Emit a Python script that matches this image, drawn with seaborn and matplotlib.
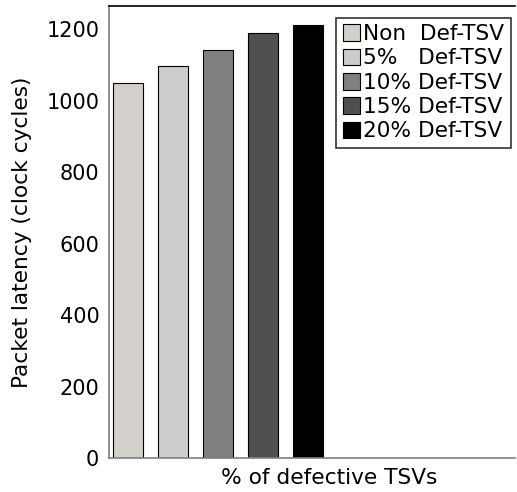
import numpy as np
import pandas as pd
import matplotlib
matplotlib.use("Agg")
import matplotlib.pyplot as plt
import seaborn as sns
from matplotlib.patches import Patch

labels = ["Non  Def-TSV", "5%   Def-TSV", "10% Def-TSV", "15% Def-TSV", "20% Def-TSV"]
latency = [1050, 1096, 1142, 1189, 1212]
colors = ["#d4d0c8", "#cccccc", "#808080", "#505050", "#000000"]

df = pd.DataFrame({"case": labels, "latency": latency})

sns.set_style("white")
plt.rcParams["font.family"] = ["DejaVu Sans"]
plt.rcParams["text.color"] = "black"
plt.rcParams["axes.labelcolor"] = "black"
plt.rcParams["ytick.labelcolor"] = "black"

fig = plt.figure(figsize=(5.17, 4.92), dpi=100)
ax = fig.add_axes([0.211, 0.069, 0.785, 0.919])

sns.barplot(data=df, x="case", y="latency", hue="case", palette=colors,
            width=0.667, edgecolor="black", linewidth=0.8, legend=False, ax=ax)

ax.set_xlim(-0.41, 8.6)
ax.set_ylim(0, 1265)
ax.set_yticks([0, 200, 400, 600, 800, 1000, 1200])
ax.set_xticks([])
ax.tick_params(axis="y", direction="in", length=5, color="gray", labelsize=15,
               labelcolor="black", pad=7)
ax.set_ylabel("Packet latency (clock cycles)", fontsize=15.6, labelpad=10)
ax.set_xlabel("% of defective TSVs", fontsize=15.6)
ax.xaxis.set_label_coords(0.542, -0.022, transform=ax.transAxes)
ax.xaxis.label.set_va("top")

ax.spines["left"].set_color("gray")
ax.spines["bottom"].set_color("gray")
ax.spines["top"].set_color("black")
ax.spines["right"].set_visible(False)
for s in ax.spines.values():
    s.set_linewidth(1.2)

handles = [Patch(facecolor=c, edgecolor="black", linewidth=0.8) for c in colors]
leg = ax.legend(handles, labels, loc="upper right", bbox_to_anchor=(0.99, 0.974),
                fontsize=15.6, frameon=True, fancybox=False, handlelength=0.8,
                handleheight=0.8, handletextpad=0.15, labelspacing=0.2,
                borderpad=0.3, borderaxespad=0)
leg.get_frame().set_edgecolor("black")
leg.get_frame().set_linewidth(1.2)

fig.savefig("out.png", dpi=100)
